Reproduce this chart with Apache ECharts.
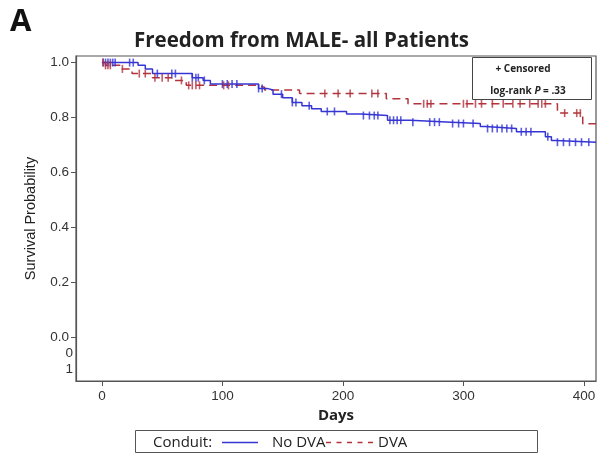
<!DOCTYPE html>
<html>
<head>
<meta charset="utf-8">
<script src="https://cdn.jsdelivr.net/npm/echarts@6/dist/echarts.min.js"></script>
<style>html,body{margin:0;padding:0;background:#fff;}#c{width:603px;height:457px;}</style>
</head>
<body>
<div id="c"></div>
<script>
// ---- data ----
const noDvaTimes = [0, 30, 36, 42, 75, 84, 90, 130, 137, 142, 150, 158, 166, 174, 182, 203, 215, 237, 256, 290, 314, 318, 344, 368, 373, 377, 410];
const noDvaSurv  = [1.0, 0.99, 0.977, 0.96, 0.945, 0.935, 0.922, 0.906, 0.9, 0.885, 0.872, 0.855, 0.843, 0.832, 0.822, 0.813, 0.807, 0.79, 0.783, 0.778, 0.767, 0.76, 0.748, 0.73, 0.716, 0.71, 0.71];
const dvaTimes = [0, 3, 15, 25, 42, 58, 70, 128, 135, 164, 236, 254, 378, 399, 410];
const dvaSurv  = [1.0, 0.99, 0.977, 0.96, 0.945, 0.935, 0.917, 0.91, 0.9, 0.887, 0.868, 0.85, 0.816, 0.777, 0.777];
const noDvaCensor = [1, 3, 5, 7, 9, 11, 23, 26, 46, 58, 61, 75, 78, 80, 85, 100, 104, 108, 112, 130, 133, 149, 158, 161, 172, 187, 193, 217, 222, 226, 229, 239, 242, 245, 248, 258, 272, 276, 280, 291, 296, 300, 308, 320, 324, 328, 332, 336, 340, 348, 352, 356, 370, 378, 383, 388, 393, 398, 404];
const dvaCensor = [1, 3, 5, 7, 17, 31, 36, 44, 50, 55, 66, 72, 75, 78, 81, 101, 105, 185, 196, 206, 224, 229, 267, 270, 273, 300, 303, 310, 315, 324, 333, 341, 347, 355, 362, 365, 368, 384, 394, 397];
const xTicks = [0, 100, 200, 300, 400];
const yTicks = [0, 0.2, 0.4, 0.6, 0.8, 1.0];
const seriesNames = ['No DVA', 'DVA'];

const BLUE = '#3535d4';
const RED = '#b3333d';

function stepAt(times, surv, d) {
  let v = surv[0];
  for (let i = 0; i < times.length; i++) { if (times[i] <= d) v = surv[i]; }
  return v;
}
const pairs = (t, s) => t.map((x, i) => [x, s[i]]);

const chart = echarts.init(document.getElementById('c'), null, {renderer: 'canvas'});
const tickFont = {fontFamily: 'Liberation Sans, Arial, sans-serif', fontSize: 13.5, color: '#333'};
const legendText = {fontFamily: 'Open Sans, sans-serif', fontSize: 15, color: '#222'};

chart.setOption({
  animation: false,
  backgroundColor: '#fff',
  title: {
    text: 'Freedom from MALE- all Patients',
    left: 'center', top: 26,
    textStyle: {fontFamily: 'Open Sans, sans-serif', fontWeight: 'bold', fontSize: 20.5, color: '#222'}
  },
  grid: {left: 76, right: 7, top: 56, bottom: 76, show: true, borderColor: '#555', borderWidth: 1.2, backgroundColor: 'transparent'},
  xAxis: {
    type: 'value', min: -21.5, max: 410,
    name: 'Days', nameLocation: 'middle', nameGap: 24,
    nameTextStyle: {fontFamily: 'Open Sans, sans-serif', fontWeight: 'bold', fontSize: 15, color: '#222'},
    axisLine: {show: true, onZero: false, lineStyle: {color: '#555', width: 1.2}},
    axisTick: {show: true, length: 5, inside: false, customValues: xTicks, lineStyle: {color: '#555'}},
    axisLabel: Object.assign({customValues: xTicks, margin: 8, formatter: v => String(v)}, tickFont),
    splitLine: {show: false}
  },
  yAxis: {
    type: 'value', min: -0.16, max: 1.024,
    name: 'Survival Probability', nameLocation: 'middle', nameGap: 38, nameRotate: 90,
    nameTextStyle: {fontFamily: 'Liberation Sans, Arial, sans-serif', fontSize: 14.5, color: '#222'},
    axisLine: {show: true, onZero: false, lineStyle: {color: '#555', width: 1.2}},
    axisTick: {show: true, length: 5, customValues: yTicks, lineStyle: {color: '#555'}},
    axisLabel: Object.assign({customValues: yTicks, margin: 7, formatter: v => v.toFixed(1)}, tickFont),
    splitLine: {show: false}
  },
  legend: [
    {
      data: [{name: seriesNames[0], icon: 'path://M0,0H36V1.6H0Z'}],
      left: 222, top: 435, padding: 0,
      itemWidth: 36, itemHeight: 1.6,
      textStyle: Object.assign({padding: [0, 0, 0, 9]}, legendText)
    },
    {
      data: [{name: seriesNames[1], icon: 'path://M0,0h5v1.6h-5z M10.5,0h5v1.6h-5z M21,0h5v1.6h-5z M31.5,0h5v1.6h-5z M42,0h5v1.6h-5z'}],
      left: 326, top: 435, padding: 0,
      itemWidth: 47, itemHeight: 1.6,
      textStyle: legendText
    }
  ],
  series: [
    {
      name: seriesNames[0], type: 'line', step: 'end', symbol: 'none', z: 3,
      data: pairs(noDvaTimes, noDvaSurv),
      lineStyle: {color: BLUE, width: 1.5}, itemStyle: {color: BLUE}
    },
    {
      name: seriesNames[1], type: 'line', step: 'end', symbol: 'none', z: 2,
      data: pairs(dvaTimes, dvaSurv),
      lineStyle: {color: RED, width: 1.5, type: [8, 5]}, itemStyle: {color: RED}
    },
    {
      name: 'No DVA censored', type: 'scatter', symbol: 'rect', symbolSize: [1.6, 8], z: 4,
      data: noDvaCensor.map(d => [d, stepAt(noDvaTimes, noDvaSurv, d)]),
      itemStyle: {color: BLUE}
    },
    {
      name: 'DVA censored', type: 'scatter', symbol: 'rect', symbolSize: [1.6, 8], z: 4,
      data: dvaCensor.map(d => [d, stepAt(dvaTimes, dvaSurv, d)]),
      itemStyle: {color: RED}
    }
  ],
  graphic: [
    {type: 'text', x: 10, y: 22, style: {text: 'A', font: 'bold 31px "Open Sans", sans-serif', fill: '#111', verticalAlign: 'middle'}},
    {type: 'rect', shape: {x: 472.5, y: 57.5, width: 119, height: 42}, style: {fill: '#fff', stroke: '#444', lineWidth: 1}, z: 10},
    {type: 'text', x: 523, y: 69, z: 11, style: {text: '+ Censored', font: 'bold 10px "Open Sans", sans-serif', fill: '#222', align: 'center', verticalAlign: 'middle'}},
    {type: 'text', x: 528, y: 91, z: 11, style: {
      text: '{a|log-rank }{b|P}{a| = .33}', align: 'center', verticalAlign: 'middle',
      rich: {a: {font: 'bold 10px "Open Sans", sans-serif', fill: '#222'}, b: {font: 'italic bold 10px "Open Sans", sans-serif', fill: '#222'}}
    }},
    {type: 'text', x: 73, y: 353, style: {text: '0', font: '13.5px "Liberation Sans", Arial, sans-serif', fill: '#333', align: 'right', verticalAlign: 'middle'}},
    {type: 'text', x: 73, y: 369, style: {text: '1', font: '13.5px "Liberation Sans", Arial, sans-serif', fill: '#333', align: 'right', verticalAlign: 'middle'}},
    {type: 'rect', shape: {x: 135.5, y: 430.5, width: 402, height: 22}, style: {fill: 'none', stroke: '#555', lineWidth: 1}},
    {type: 'text', x: 153, y: 443, style: {text: 'Conduit:', font: '15px "Open Sans", sans-serif', fill: '#222', verticalAlign: 'middle'}}
  ]
});
</script>
</body>
</html>
